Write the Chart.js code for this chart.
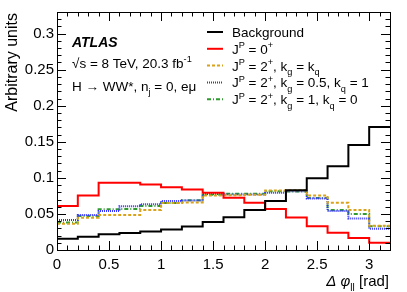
<!DOCTYPE html>
<html>
<head>
<meta charset="utf-8">
<script src="https://cdn.jsdelivr.net/npm/chart.js@4"></script>
<style>
  html, body { margin: 0; padding: 0; background: #fff; }
</style>
</head>
<body>
<canvas id="phiChart" width="407" height="292"></canvas>
<script>
// bin edges of the delta phi histogram [rad]
const binEdges = [0, 0.2, 0.4, 0.6, 0.8, 1.0, 1.2, 1.4, 1.6, 1.8, 2.0, 2.2, 2.4, 2.6, 2.8, 3.0, 3.2];

// normalised bin contents, one value per bin
const background = [0.0155, 0.0184, 0.022, 0.0235, 0.0258, 0.0285, 0.0327, 0.0387, 0.0455, 0.0553, 0.068, 0.083, 0.0996, 0.116, 0.1457, 0.1706];
const spin0 = [0.061, 0.0755, 0.0933, 0.0933, 0.0908, 0.087, 0.084, 0.0795, 0.0726, 0.0655, 0.057, 0.045, 0.033, 0.024, 0.0166, 0.0101];
const spin2kgkq = [0.0365, 0.0448, 0.0487, 0.0487, 0.0555, 0.065, 0.066, 0.0755, 0.076, 0.0765, 0.0825, 0.083, 0.0756, 0.0655, 0.0553, 0.0335];
const spin2kg05 = [0.0415, 0.0487, 0.054, 0.0607, 0.0635, 0.068, 0.0685, 0.0775, 0.077, 0.077, 0.0795, 0.0815, 0.0715, 0.054, 0.0438, 0.0295];
const spin2kg1 = [0.038, 0.047, 0.0565, 0.057, 0.061, 0.065, 0.069, 0.0765, 0.078, 0.078, 0.0815, 0.081, 0.072, 0.0553, 0.0498, 0.033];

const legendLabels = ['Background', 'J^{P} = 0^{+}', 'J^{P} = 2^{+}, k_{g} = k_{q}', 'J^{P} = 2^{+}, k_{g} = 0.5, k_{q} = 1', 'J^{P} = 2^{+}, k_{g} = 1, k_{q} = 0'];

const xTicks = [0, 0.5, 1, 1.5, 2, 2.5, 3];
const yTicks = [0, 0.05, 0.1, 0.15, 0.2, 0.25, 0.3];

const FONT = '"Liberation Sans", Arial, Helvetica, sans-serif';

// histogram -> step line points (left edges + closing point at the last edge)
function histPoints(vals) {
  return binEdges.map((e, i) => ({ x: e, y: vals[Math.min(i, vals.length - 1)] }));
}

function histSet(label, vals, color, dash) {
  return {
    label: label,
    data: histPoints(vals),
    borderColor: color,
    borderWidth: 2,
    borderDash: dash,
    stepped: true,
    fill: false,
    pointRadius: 0,
    tension: 0
  };
}

// text with ^{..} and _{..}
function drawRich(ctx, str, x, y, size, style) {
  const parts = [];
  const re = /([\^_])\{([^}]*)\}/g;
  let last = 0, m;
  while ((m = re.exec(str)) !== null) {
    if (m.index > last) parts.push({ t: str.slice(last, m.index), k: 'n' });
    parts.push({ t: m[2], k: m[1] === '^' ? 'sup' : 'sub' });
    last = re.lastIndex;
  }
  if (last < str.length) parts.push({ t: str.slice(last), k: 'n' });
  ctx.textBaseline = 'alphabetic';
  ctx.textAlign = 'left';
  let cx = x;
  parts.forEach(p => {
    let s = size, dy = 0;
    if (p.k === 'sup') { s = size * 0.68; dy = -size * 0.42; }
    if (p.k === 'sub') { s = size * 0.68; dy = size * 0.32; }
    ctx.font = (style || '') + ' ' + s + 'px ' + FONT;
    ctx.fillText(p.t, cx, y + dy);
    cx += ctx.measureText(p.t).width;
  });
}

const frameAndText = {
  id: 'frameAndText',
  afterDraw(chart) {
    const ctx = chart.ctx;
    const a = chart.chartArea;
    const xs = chart.scales.x, ys = chart.scales.y;
    ctx.save();
    ctx.strokeStyle = '#000';
    ctx.lineWidth = 1;
    ctx.setLineDash([]);
    ctx.strokeRect(Math.round(a.left) + 0.5, Math.round(a.top) + 0.5, Math.round(a.right - a.left), Math.round(a.bottom - a.top));

    // inside ticks, ROOT style
    ctx.beginPath();
    for (let i = 0; i <= 32; i++) {
      const v = i * 0.1;
      const px = Math.round(xs.getPixelForValue(v)) + 0.5;
      const len = (i % 5 === 0) ? 9 : 4.5;
      ctx.moveTo(px, a.bottom); ctx.lineTo(px, a.bottom - len);
      ctx.moveTo(px, a.top); ctx.lineTo(px, a.top + len);
    }
    for (let i = 0; i <= 33; i++) {
      const v = i * 0.01;
      const py = Math.round(ys.getPixelForValue(v)) + 0.5;
      const len = (i % 5 === 0) ? 9 : 4.5;
      ctx.moveTo(a.left, py); ctx.lineTo(a.left + len, py);
      ctx.moveTo(a.right, py); ctx.lineTo(a.right - len, py);
    }
    ctx.stroke();

    ctx.fillStyle = '#000';
    // y title
    ctx.save();
    ctx.translate(13, a.top + 1);
    ctx.rotate(-Math.PI / 2);
    ctx.font = '16px ' + FONT;
    ctx.textAlign = 'right';
    ctx.textBaseline = 'middle';
    ctx.fillText('Arbitrary units', 0, 0);
    ctx.restore();

    // x title
    ctx.font = '15px ' + FONT;
    const wRad = ctx.measureText(' [rad]').width;
    ctx.font = '10px ' + FONT;
    const wSub = ctx.measureText('ll').width;
    ctx.font = 'italic 15px ' + FONT;
    const wPhi = ctx.measureText('\u0394 \u03c6').width;
    let tx = a.right - wRad - wSub - wPhi - 1;
    ctx.textAlign = 'left';
    ctx.textBaseline = 'alphabetic';
    ctx.fillText('\u0394 \u03c6', tx, 286);
    tx += wPhi;
    ctx.font = '10px ' + FONT;
    ctx.fillText('ll', tx, 291);
    tx += wSub;
    ctx.font = '15px ' + FONT;
    ctx.fillText(' [rad]', tx, 286);

    // ATLAS label and info
    ctx.font = 'bold italic 14px ' + FONT;
    ctx.fillText('ATLAS', 72, 47);
    drawRich(ctx, '\u221as = 8 TeV, 20.3 fb^{-1}', 72, 68, 13.5);
    drawRich(ctx, 'H \u2192 WW*, n_{j} = 0, e\u03bc', 72, 91, 13.5);

    // legend
    const sets = chart.data.datasets;
    legendLabels.forEach((lab, i) => {
      const ly = 32 + i * 16.8;
      const ds = sets[i];
      ctx.beginPath();
      ctx.strokeStyle = ds.borderColor;
      ctx.lineWidth = 2;
      ctx.setLineDash(ds.borderDash || []);
      ctx.moveTo(207, ly); ctx.lineTo(223, ly);
      ctx.stroke();
      ctx.setLineDash([]);
      ctx.fillStyle = '#000';
      drawRich(ctx, lab, 232, ly + 5, 13.5);
    });
    ctx.restore();
  }
};

new Chart(document.getElementById('phiChart'), {
  type: 'line',
  data: {
    datasets: [
      histSet(legendLabels[0], background, '#000000', []),
      histSet(legendLabels[1], spin0, '#ff0000', []),
      histSet(legendLabels[2], spin2kgkq, '#d9a21b', [3, 2]),
      histSet(legendLabels[3], spin2kg05, '#3030ff', [1, 1]),
      histSet(legendLabels[4], spin2kg1, '#2f9a2f', [4, 2, 1, 2])
    ]
  },
  plugins: [frameAndText],
  options: {
    responsive: false,
    animation: false,
    layout: { padding: { top: 12, right: 17, left: 0, bottom: 0 } },
    plugins: { legend: { display: false }, tooltip: { enabled: false } },
    scales: {
      x: {
        type: 'linear',
        min: 0,
        max: 3.2,
        afterFit(scale) { scale.height = 42; },
        afterBuildTicks(scale) { scale.ticks = xTicks.map(v => ({ value: v })); },
        grid: { display: false, drawTicks: false },
        border: { display: false },
        ticks: { color: '#000', font: { family: FONT, size: 15 }, padding: 6, maxRotation: 0, autoSkip: false,
                 callback: v => String(v) }
      },
      y: {
        type: 'linear',
        min: 0,
        max: 0.33,
        afterFit(scale) { scale.width = 57; },
        afterBuildTicks(scale) { scale.ticks = yTicks.map(v => ({ value: v })); },
        grid: { display: false, drawTicks: false },
        border: { display: false },
        ticks: { color: '#000', font: { family: FONT, size: 15 }, padding: 3, autoSkip: false,
                 callback: v => String(v) }
      }
    }
  }
});
</script>
</body>
</html>
